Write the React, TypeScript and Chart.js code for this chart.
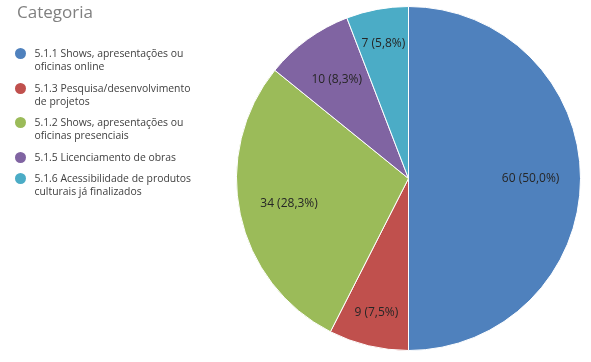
import React, { useEffect, useRef } from "react";
import { Chart, registerables } from "chart.js";

Chart.register(...registerables);

const title = "Categoria";
const categories = [
  "5.1.1 Shows, apresentações ou oficinas online",
  "5.1.3 Pesquisa/desenvolvimento de projetos",
  "5.1.2 Shows, apresentações ou oficinas presenciais",
  "5.1.5 Licenciamento de obras",
  "5.1.6 Acessibilidade de produtos culturais já finalizados",
];
const values = [60, 9, 34, 10, 7];
const colors = ["#4F81BD", "#C0504D", "#9BBB59", "#8064A2", "#4BACC6"];

const FONT = "'Open Sans', 'Noto Sans', sans-serif";

const labelPlugin = {
  id: "sliceLabels",
  afterDatasetsDraw(chart: any) {
    const ctx = chart.ctx;
    const meta = chart.getDatasetMeta(0);
    const data = chart.data.datasets[0].data as number[];
    const total = data.reduce((a, b) => a + b, 0);
    ctx.save();
    ctx.font = `12px ${FONT}`;
    ctx.fillStyle = "#262626";
    ctx.textAlign = "center";
    ctx.textBaseline = "middle";
    meta.data.forEach((arc: any, i: number) => {
      const p = arc.getProps(["x", "y", "startAngle", "endAngle", "outerRadius"], true);
      const mid = (p.startAngle + p.endAngle) / 2;
      const share = data[i] / total;
      const f = share < 0.08 ? 0.8 : 0.71;
      const r = p.outerRadius * f;
      const x = p.x + Math.cos(mid) * r;
      const y = p.y + Math.sin(mid) * r;
      const pct = (share * 100).toFixed(1).replace(".", ",");
      ctx.fillText(`${data[i]} (${pct}%)`, x, y);
    });
    ctx.restore();
  },
};

export default function App() {
  const ref = useRef<HTMLCanvasElement>(null);
  useEffect(() => {
    if (!ref.current) return;
    const chart = new Chart(ref.current, {
      type: "pie",
      data: {
        labels: categories,
        datasets: [
          {
            data: values,
            backgroundColor: colors,
            borderColor: "#ffffff",
            borderWidth: 1,
          },
        ],
      },
      options: {
        animation: false,
        responsive: false,
        maintainAspectRatio: false,
        layout: { padding: { left: 236, right: 10, top: 6, bottom: 11 } },
        plugins: {
          legend: { display: false },
          tooltip: { enabled: false },
        },
      },
      plugins: [labelPlugin],
    });
    return () => chart.destroy();
  }, []);

  return (
    <div
      style={{
        position: "absolute",
        left: 0,
        top: 0,
        width: 591,
        height: 362,
        background: "#ffffff",
        overflow: "hidden",
      }}
    >
      <canvas
        ref={ref}
        width={591}
        height={362}
        style={{ position: "absolute", left: 0, top: 0, width: 591, height: 362 }}
      />
      <div
        style={{
          position: "absolute",
          left: 17,
          top: 0,
          fontFamily: FONT,
          fontSize: 17,
          color: "#808080",
          lineHeight: "24px",
        }}
      >
        {title}
      </div>
      <div style={{ position: "absolute", left: 15, top: 47, width: 185, fontFamily: FONT }}>
        {categories.map((c, i) => (
          <div key={c} style={{ display: "flex", alignItems: "flex-start", marginBottom: 8.5 }}>
            <span
              style={{
                width: 11,
                height: 11,
                borderRadius: "50%",
                background: colors[i],
                flex: "0 0 auto",
                marginTop: 1,
                marginRight: 8.5,
              }}
            />
            <span style={{ fontSize: 10.4, lineHeight: "13px", color: "#404040", width: 165 }}>{c}</span>
          </div>
        ))}
      </div>
    </div>
  );
}
